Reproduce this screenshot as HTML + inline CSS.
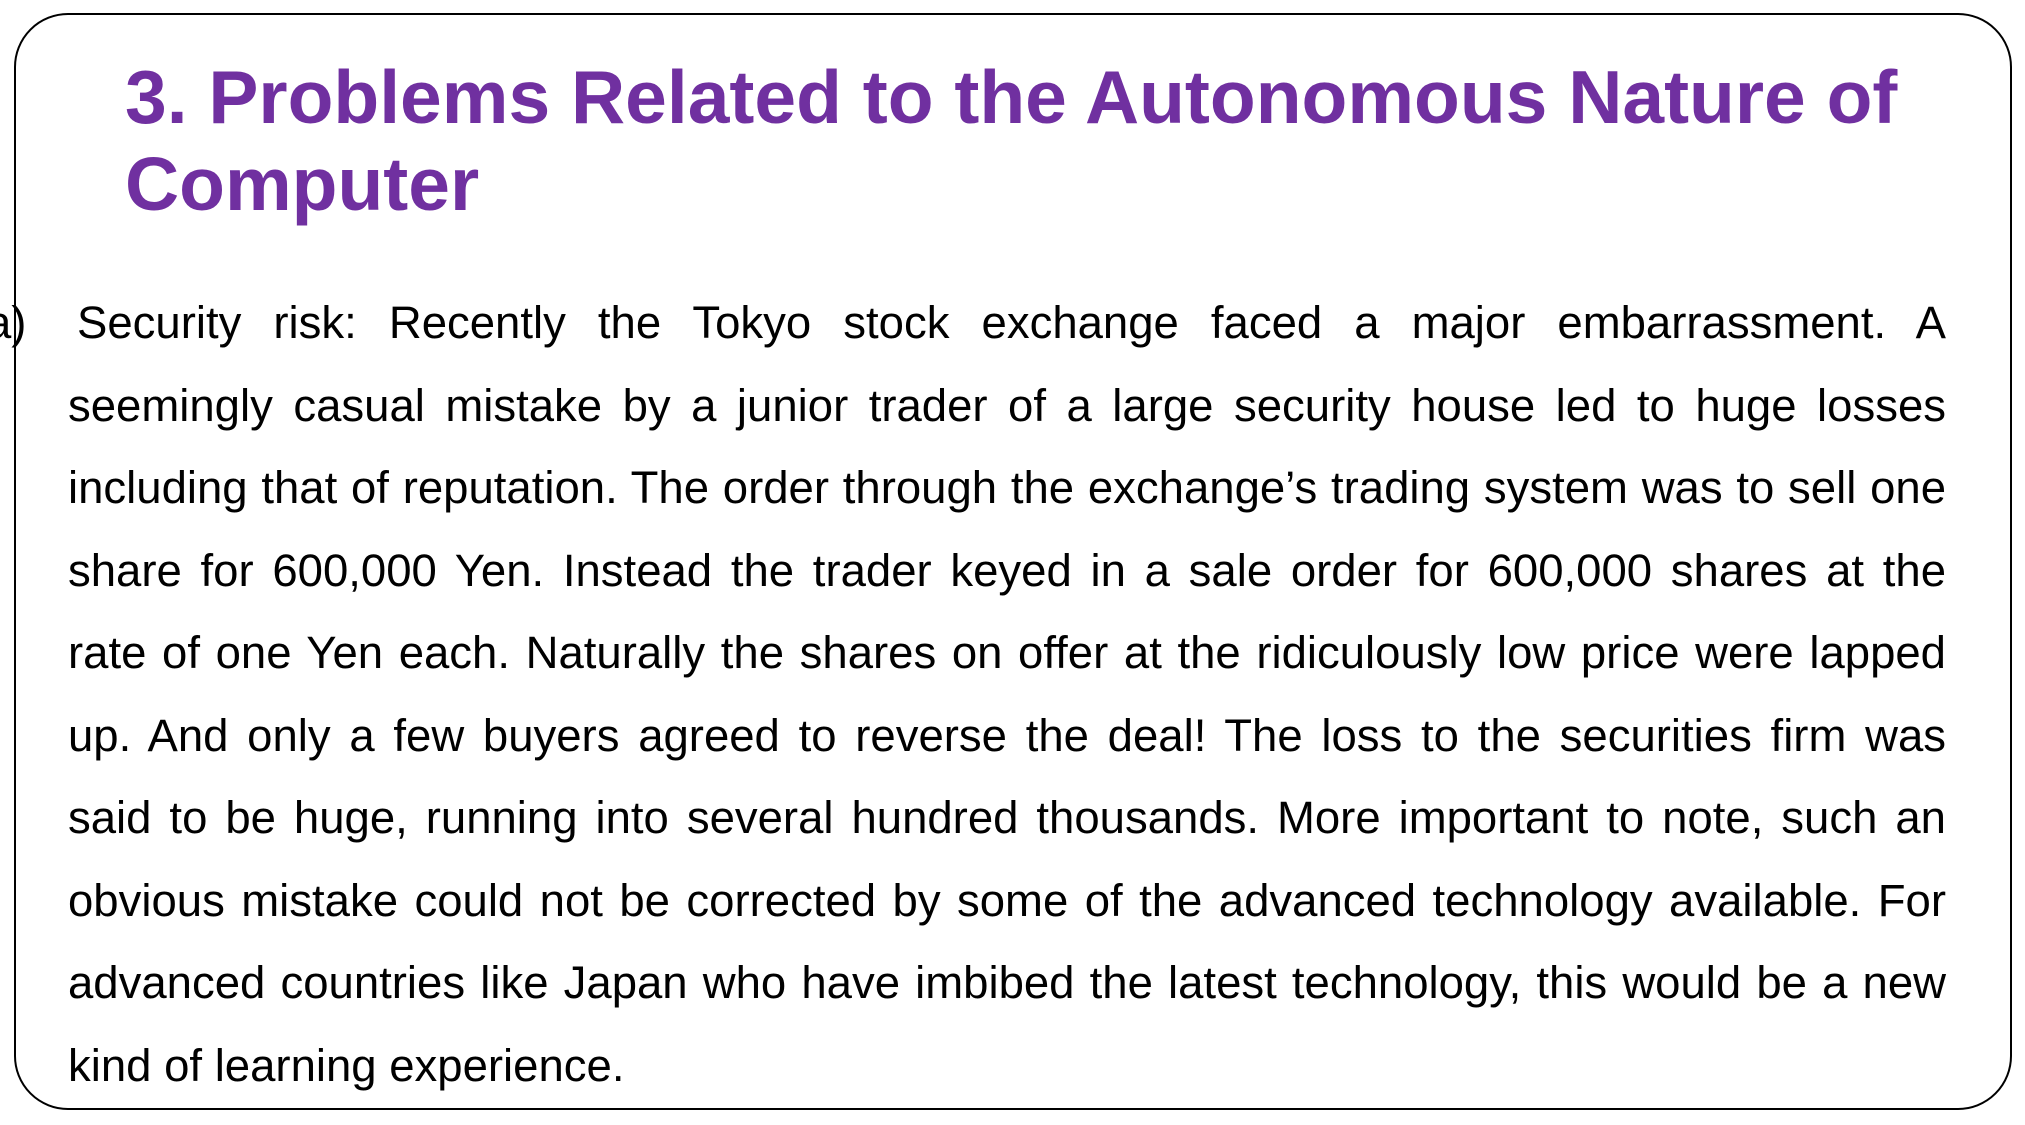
<!DOCTYPE html>
<html><head><meta charset="utf-8"><style>
html,body{margin:0;padding:0;background:#fff;}
body{width:2025px;height:1125px;position:relative;overflow:hidden;font-family:"Liberation Sans",Arial,sans-serif;}
.frame{position:absolute;left:14px;top:13px;width:1998px;height:1097px;border:2px solid #000;border-radius:54px;box-sizing:border-box;}
.title{position:absolute;left:125px;top:54px;font-size:75px;line-height:87px;font-weight:bold;color:#7030a0;white-space:nowrap;}
.body{position:absolute;left:68px;top:282px;width:1878px;font-size:45.5px;line-height:82.5px;color:#000;}
.l{text-align:justify;text-align-last:justify;height:82.5px;overflow:visible;}
.last{text-align:left;text-align-last:left;}
.a{position:absolute;left:-14px;top:282px;font-size:45.5px;line-height:82.5px;}
</style></head><body>
<div class="frame"></div>
<div class="title">3. Problems Related to the Autonomous Nature of<br>Computer</div>
<div class="a">a)</div>
<div class="body">
<div class="l" style="padding-left:9px">Security risk: Recently the Tokyo stock exchange faced a major embarrassment. A</div>
<div class="l">seemingly casual mistake by a junior trader of a large security house led to huge losses</div>
<div class="l">including that of reputation. The order through the exchange’s trading system was to sell one</div>
<div class="l">share for 600,000 Yen. Instead the trader keyed in a sale order for 600,000 shares at the</div>
<div class="l">rate of one Yen each. Naturally the shares on offer at the ridiculously low price were lapped</div>
<div class="l">up. And only a few buyers agreed to reverse the deal! The loss to the securities firm was</div>
<div class="l">said to be huge, running into several hundred thousands. More important to note, such an</div>
<div class="l">obvious mistake could not be corrected by some of the advanced technology available. For</div>
<div class="l">advanced countries like Japan who have imbibed the latest technology, this would be a new</div>
<div class="l last">kind of learning experience.</div>
</div>
</body></html>
